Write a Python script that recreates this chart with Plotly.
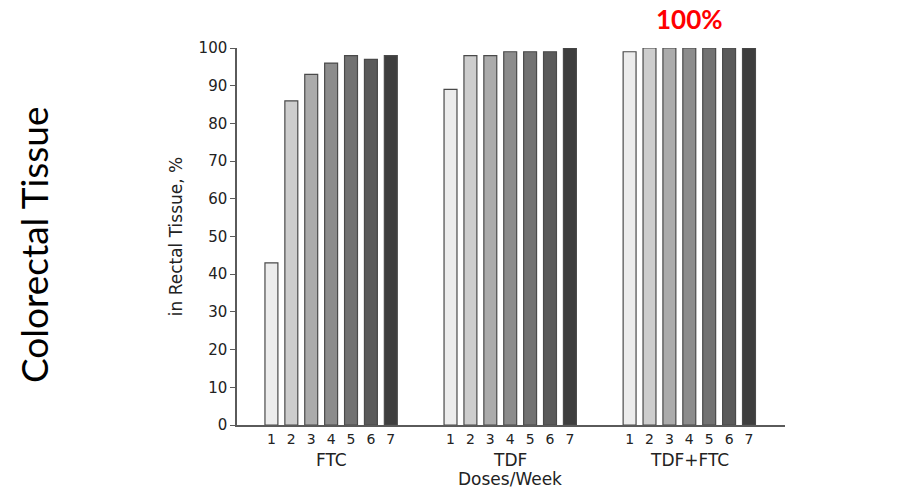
import plotly.graph_objects as go

groups = ["FTC", "TDF", "TDF+FTC"]
doses = ["1", "2", "3", "4", "5", "6", "7"]
ftc = [43, 86, 93, 96, 98, 97, 98]
tdf = [89, 98, 98, 99, 99, 99, 100]
tdf_ftc = [99, 100, 100, 100, 100, 100, 100]
dose_colors = ["#ececec", "#cdcdcd", "#ababab", "#8c8c8c", "#727272", "#5a5a5a", "#3e3e3e"]
y_ticks = [0, 10, 20, 30, 40, 50, 60, 70, 80, 90, 100]

series = [ftc, tdf, tdf_ftc]
gap = 9  # units between group starts

fig = go.Figure()
xs_all, text_all = [], []
for d, dose in enumerate(doses):
    xs = [g * gap + d + 1 for g in range(len(groups))]
    ys = [s[d] for s in series]
    fig.add_trace(go.Bar(
        x=xs, y=ys, width=0.65,
        marker=dict(color=dose_colors[d], line=dict(color="#4a4a4a", width=1.2)),
        showlegend=False, hoverinfo="y",
    ))
for g in range(len(groups)):
    for d, dose in enumerate(doses):
        xs_all.append(g * gap + d + 1)
        text_all.append(dose)

font_main = "DejaVu Sans, Liberation Sans, Arial"
L, R, T, B = 237, 112, 48, 65
fig.update_layout(
    width=897, height=490,
    margin=dict(l=L, r=R, t=T, b=B),
    plot_bgcolor="white", paper_bgcolor="white",
    barmode="overlay",
    font=dict(family=font_main, color="#222222"),
    xaxis=dict(
        range=[-0.73, 26.81], tickmode="array", tickvals=xs_all, ticktext=text_all,
        showline=True, linecolor="#5a5a5a", linewidth=1.5, ticks="",
        showgrid=False, zeroline=False, tickfont=dict(size=14, color="#222222"),
        ticklabelstandoff=0,
    ),
    yaxis=dict(
        range=[0, 100], tickmode="array", tickvals=y_ticks,
        showline=True, linecolor="#5a5a5a", linewidth=1.5, ticks="outside",
        ticklen=5, tickcolor="#5a5a5a", tickwidth=1.2,
        showgrid=False, zeroline=False, tickfont=dict(size=15, color="#222222"),
        title=dict(text="in Rectal Tissue, %", font=dict(size=17, color="#222222"), standoff=12),
    ),
)

centers = [g * gap + 4 for g in range(len(groups))]
for g, name in enumerate(groups):
    fig.add_annotation(x=centers[g], xref="x", y=0, yref="paper", yanchor="top",
                       yshift=-23, text=name, showarrow=False,
                       font=dict(size=17, color="#222222", family=font_main))
fig.add_annotation(x=centers[1], xref="x", y=0, yref="paper", yanchor="top",
                   yshift=-42, text="Doses/Week", showarrow=False,
                   font=dict(size=17, color="#222222", family=font_main))
fig.add_annotation(x=centers[2], xref="x", y=1, yref="paper", yanchor="middle",
                   yshift=29, text="<b>100%</b>", showarrow=False,
                   font=dict(size=26, color="#ff0000", family="Lato, Open Sans, Arial"))

pw = 897 - L - R
ph = 490 - T - B
fig.add_annotation(xref="paper", yref="paper", x=(33 - L) / pw, y=(490 - B - 245) / ph,
                   xanchor="center", yanchor="middle",
                   text="Colorectal Tissue", showarrow=False, textangle=-90,
                   font=dict(size=37, color="#000000", family="Lato, Open Sans, Arial"))

fig.write_html("out.html")
